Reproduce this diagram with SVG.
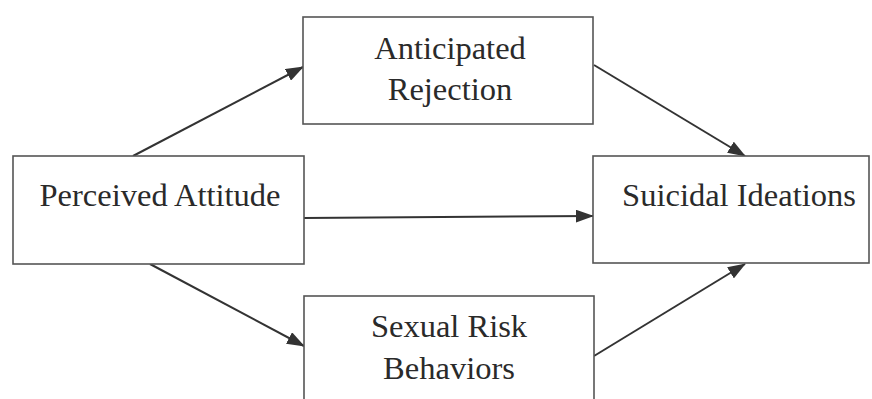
<svg xmlns="http://www.w3.org/2000/svg" width="872" height="399" viewBox="0 0 872 399">
<defs>
<marker id="ah" markerUnits="userSpaceOnUse" markerWidth="18" markerHeight="13" refX="17" refY="6.5" orient="auto">
<path d="M0,0 L18,6.5 L0,13 Z" fill="#333"/>
</marker>
<style>
.box{fill:#fff;stroke:#555;stroke-width:1.6}
.lbl{font-family:"Liberation Serif","Times New Roman",serif;font-size:32.5px;fill:#2a2a2a;text-anchor:middle}
.edge{stroke:#333;stroke-width:2;fill:none;marker-end:url(#ah)}
</style>
</defs>
<rect width="872" height="399" fill="#fff"/>
<g id="connectors">
<line class="edge" x1="133" y1="156" x2="303" y2="67"/>
<line class="edge" x1="304" y1="218" x2="593" y2="216"/>
<line class="edge" x1="150" y1="264" x2="304" y2="346"/>
<line class="edge" x1="594" y1="65" x2="745" y2="156"/>
<line class="edge" x1="594" y1="356" x2="745" y2="264"/>
</g>
<g id="perceived">
<rect class="box" x="13" y="156" width="291" height="108"/>
<text class="lbl" x="160" y="206">Perceived Attitude</text>
</g>
<g id="anticipated">
<rect class="box" x="303" y="17" width="290" height="107"/>
<text class="lbl" x="450" y="59">Anticipated</text>
<text class="lbl" x="450" y="100">Rejection</text>
</g>
<g id="sexual">
<rect class="box" x="304" y="296" width="290" height="110"/>
<text class="lbl" x="449" y="337">Sexual Risk</text>
<text class="lbl" x="449" y="379">Behaviors</text>
</g>
<g id="suicidal">
<rect class="box" x="593" y="156" width="276" height="107"/>
<text class="lbl" x="739" y="206">Suicidal Ideations</text>
</g>
</svg>
